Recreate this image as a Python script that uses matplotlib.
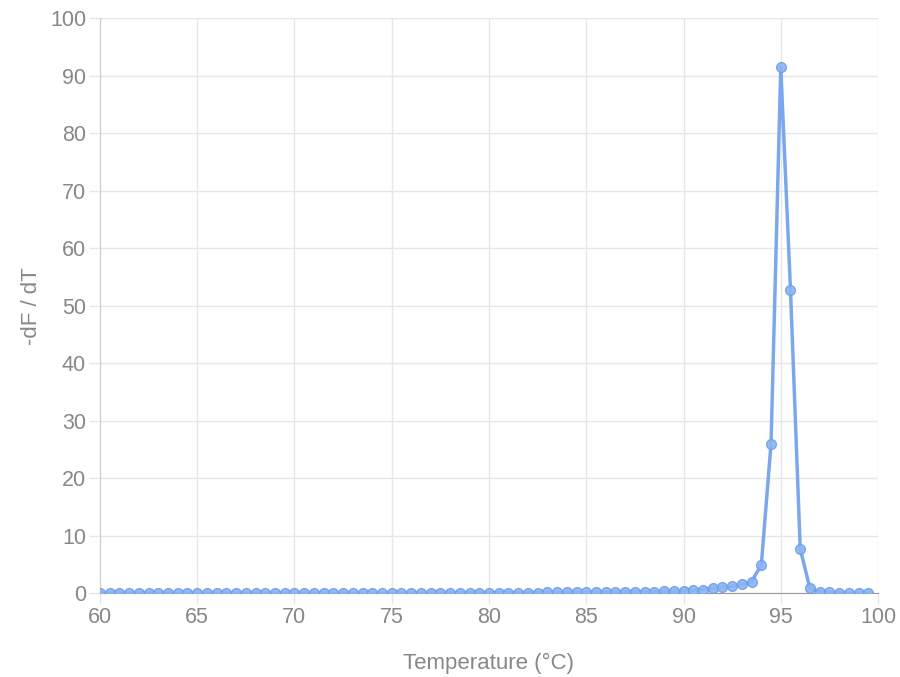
import numpy as np
import matplotlib
matplotlib.use('Agg')
import matplotlib.pyplot as plt

# temperature steps, 0.5 degC from 60 to 99.5
temps = np.arange(60.0, 100.0, 0.5)

# -dF/dT (60.0 .. 99.5)
dfdt = [0.0, 0.0, 0.0, 0.0, 0.0, 0.0, 0.0, 0.0, 0.0, 0.0,          # 60 - 64.5
        0.0, 0.0, 0.0, 0.0, 0.0, 0.0, 0.0, 0.0, 0.0, 0.0,          # 65 - 69.5
        0.0, 0.0, 0.0, 0.0, 0.0, 0.0, 0.0, 0.0, 0.0, 0.0,          # 70 - 74.5
        0.0, 0.0, 0.0, 0.0, 0.0, 0.0, 0.05, 0.05, 0.05, 0.05,      # 75 - 79.5
        0.05, 0.05, 0.05, 0.05, 0.05, 0.05, 0.1, 0.1, 0.1, 0.1,    # 80 - 84.5
        0.1, 0.1, 0.2, 0.2, 0.2, 0.2, 0.2, 0.2, 0.3, 0.3,          # 85 - 89.5
        0.4, 0.5, 0.6, 0.8, 1.0, 1.2, 1.5, 2.0, 4.9, 26.0,         # 90 - 94.5
        91.5, 52.7, 7.7, 0.8, 0.2, 0.1, 0.05, 0.0, 0.0, 0.0]       # 95 - 99.5

x_ticks = [60, 65, 70, 75, 80, 85, 90, 95, 100]
y_ticks = [0, 10, 20, 30, 40, 50, 60, 70, 80, 90, 100]

plt.rcParams['font.family'] = ['Liberation Sans', 'DejaVu Sans']

fig = plt.figure(figsize=(9, 6.77), dpi=100)
ax = fig.add_axes([0.111, 0.124, 0.8646, 0.849])

line_col = '#6d9eeb'
ax.plot(temps, dfdt, color=line_col, lw=2.5, alpha=0.9,
        marker='o', ms=7, mfc=(0.55, 0.71, 0.95, 0.45), mec=(0.43, 0.62, 0.92, 0.7),
        mew=1.0, zorder=3)

ax.set_xlim(60, 100)
ax.set_ylim(0, 100)
ax.set_xticks(x_ticks)
ax.set_yticks(y_ticks)
ax.grid(True, color='#e6e6e6', lw=1)
ax.tick_params(colors='#e6e6e6', labelcolor='#888888', labelsize=15.5,
               length=8, width=1, pad=2)
for s in ['top', 'right']:
    ax.spines[s].set_visible(False)
ax.spines['left'].set_color('#cccccc')
ax.spines['bottom'].set_color('#9a9a9a')

ax.set_xlabel('Temperature (°C)', fontsize=16, color='#888888', labelpad=18)
ax.set_ylabel('-dF / dT', fontsize=16, color='#888888', labelpad=6)
ax.set_axisbelow(True)

fig.savefig('out.png', dpi=100)
